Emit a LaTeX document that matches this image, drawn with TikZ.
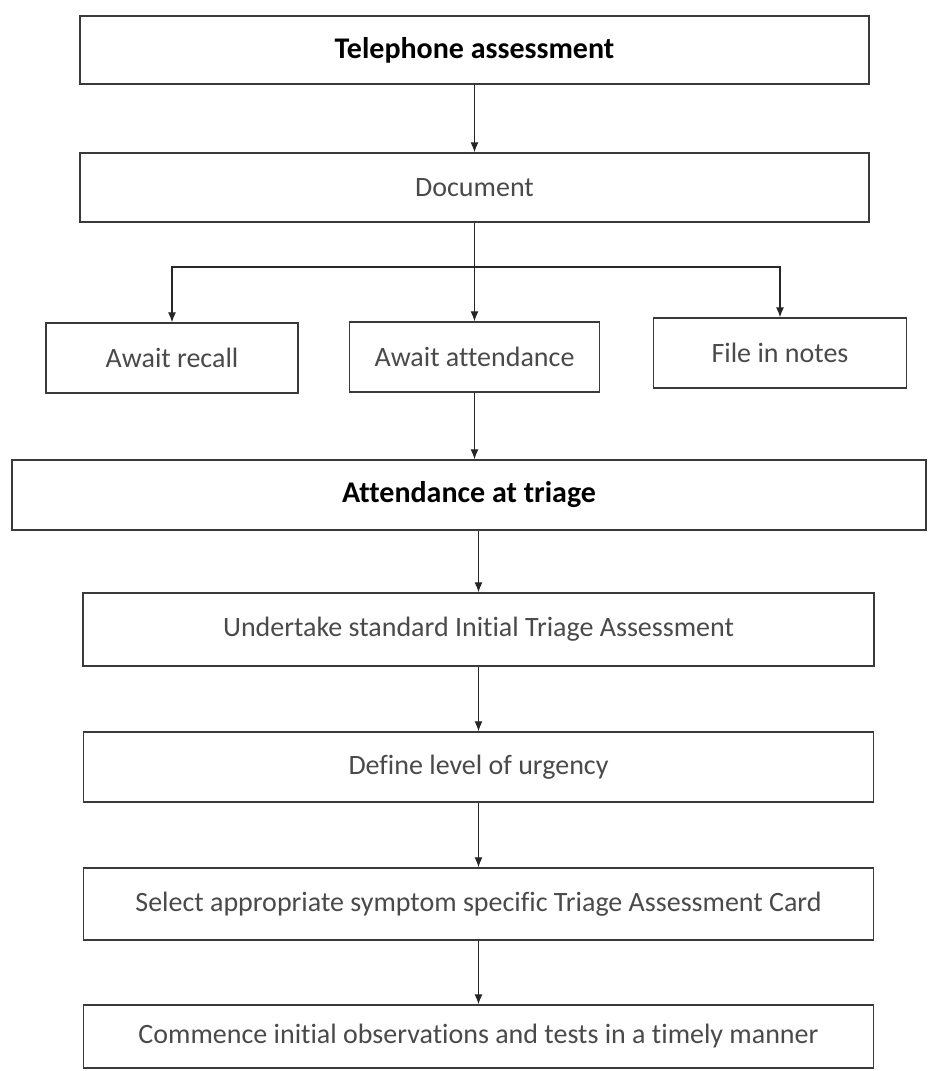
\documentclass[tikz,border=0pt]{standalone}
\usepackage{fontspec}
\setmainfont[Ligatures={NoCommon}]{Carlito}
\usetikzlibrary{arrows.meta}
\definecolor{boxline}{HTML}{3A3A3A}
\definecolor{txtgrey}{HTML}{4A4A4A}
\tikzset{
  box/.style={draw=boxline, line width=1.4pt, rectangle, fill=white, inner sep=0pt,
    font=\fontsize{28}{32}\selectfont, text=txtgrey},
  boldbox/.style={box, font=\fontsize{30}{34}\selectfont\bfseries, text=black},
  arr/.style={draw=black!85, line width=1.1pt, -{Latex[length=10pt,width=8pt]}},
  ln/.style={draw=black!85, line width=1.1pt}
}
\begin{document}
\begin{tikzpicture}[x=1pt,y=1pt]
\useasboundingbox (0,0) rectangle (929,-1071);
\node[boldbox, minimum width=789pt, minimum height=68pt] (tel) at (474.5,-50) {Telephone assessment};
\node[box, minimum width=789pt, minimum height=69pt] (doc) at (474.5,-187.5) {Document};
\node[box, minimum width=252pt, minimum height=70pt] (recall) at (172,-358) {Await recall};
\node[box, minimum width=250pt, minimum height=70pt] (attend) at (474.5,-357) {Await attendance};
\node[box, minimum width=253pt, minimum height=70pt] (file) at (780,-353) {File in notes};
\node[boldbox, minimum width=914pt, minimum height=70pt] (triage) at (469,-495) {Attendance at triage};
\node[box, minimum width=791pt, minimum height=73pt] (under) at (478.5,-629.5) {Undertake standard Initial Triage Assessment};
\node[box, minimum width=790pt, minimum height=70pt] (define) at (478.5,-767) {Define level of urgency};
\node[box, minimum width=790pt, minimum height=72pt] (select) at (478.5,-904) {Select appropriate symptom specific Triage Assessment Card};
\node[box, minimum width=790pt, minimum height=63pt] (comm) at (478.5,-1036.5) {Commence initial observations and tests in a timely manner};
\coordinate (bar) at (474.5,-267);
\draw[arr] (tel) -- (doc);
\draw[arr] (doc.south) -- (attend.north);
\draw[arr] (bar) -| (recall.north);
\draw[arr] (bar) -| (file.north);
\draw[arr] (attend.south) -- (attend.south |- triage.north);
\draw[arr] (under.north |- triage.south) -- (under.north);
\draw[arr] (under) -- (define);
\draw[arr] (define) -- (select);
\draw[arr] (select) -- (comm);
\end{tikzpicture}
\end{document}
